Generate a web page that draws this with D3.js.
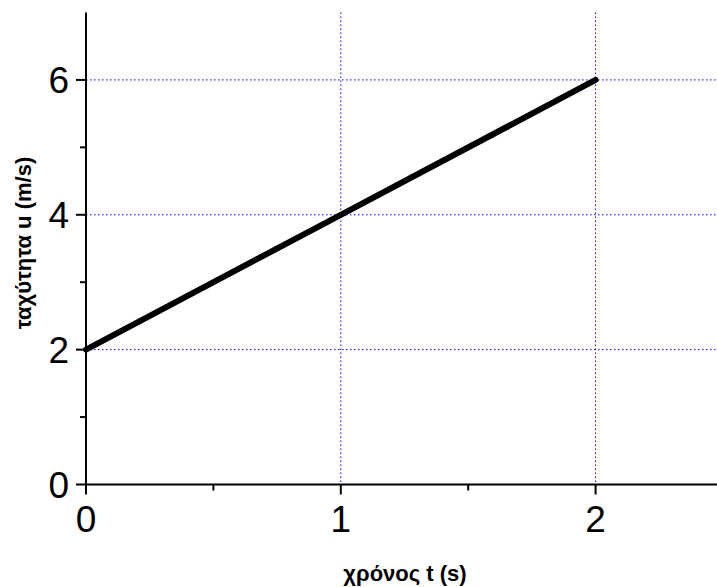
<!DOCTYPE html>
<html lang="el">
<head>
  <meta charset="UTF-8">
  <title>ταχύτητα - χρόνος</title>
  <script src="https://d3js.org/d3.v7.min.js"></script>
  <style>
    body { margin: 0; background: #fff; }
    svg { display: block; font-family: "Liberation Sans", Arial, sans-serif; }
    .grid { stroke: #0000ff; stroke-width: 1; stroke-dasharray: 1.5,2.5; }
    .tick-label { font-size: 37px; fill: #000; }
    .title { font-size: 22px; font-weight: bold; fill: #000; }
  </style>
</head>
<body>
<script>
  // Δεδομένα
  const times = [0, 1, 2];
  const speeds = [2, 4, 6];
  const xTicks = [0, 1, 2];
  const yTicks = [0, 2, 4, 6];
  const xMinor = [0.5, 1.5];
  const yMinor = [1, 3, 5];
  const xDomain = [0, 2.5];
  const yDomain = [0, 7];

  const width = 717, height = 587;
  const x = d3.scaleLinear().domain(xDomain).range([86, 723]);
  const y = d3.scaleLinear().domain(yDomain).range([484.5, 12.5]);

  const svg = d3.select("body").append("svg")
    .attr("width", width).attr("height", height);

  // πλέγμα
  svg.selectAll(".vgrid").data(xTicks.slice(1)).enter().append("line")
    .attr("class", "grid")
    .attr("x1", d => x(d)).attr("x2", d => x(d))
    .attr("y1", y(yDomain[1])).attr("y2", y(0));
  svg.selectAll(".hgrid").data(yTicks.slice(1)).enter().append("line")
    .attr("class", "grid")
    .attr("x1", x(0)).attr("x2", width)
    .attr("y1", d => y(d)).attr("y2", d => y(d));

  // άξονες
  svg.append("line").attr("stroke", "#000").attr("stroke-width", 2)
    .attr("x1", x(0)).attr("x2", x(0)).attr("y1", y(yDomain[1])).attr("y2", y(0));
  svg.append("line").attr("stroke", "#000").attr("stroke-width", 2)
    .attr("x1", x(0)).attr("x2", width).attr("y1", y(0)).attr("y2", y(0));

  // υποδιαιρέσεις
  svg.selectAll(".yt").data(yTicks).enter().append("line")
    .attr("stroke", "#000").attr("stroke-width", 2)
    .attr("x1", x(0) - 10).attr("x2", x(0)).attr("y1", d => y(d)).attr("y2", d => y(d));
  svg.selectAll(".ym").data(yMinor).enter().append("line")
    .attr("stroke", "#000").attr("stroke-width", 2)
    .attr("x1", x(0) - 6).attr("x2", x(0)).attr("y1", d => y(d)).attr("y2", d => y(d));
  svg.selectAll(".xt").data(xTicks).enter().append("line")
    .attr("stroke", "#000").attr("stroke-width", 2)
    .attr("x1", d => x(d)).attr("x2", d => x(d)).attr("y1", y(0)).attr("y2", y(0) + 10);
  svg.selectAll(".xm").data(xMinor).enter().append("line")
    .attr("stroke", "#000").attr("stroke-width", 2)
    .attr("x1", d => x(d)).attr("x2", d => x(d)).attr("y1", y(0)).attr("y2", y(0) + 6);

  // ετικέτες
  svg.selectAll(".ylab").data(yTicks).enter().append("text")
    .attr("class", "tick-label")
    .attr("x", x(0) - 17).attr("y", d => y(d) + 13)
    .attr("text-anchor", "end").text(d => d);
  svg.selectAll(".xlab").data(xTicks).enter().append("text")
    .attr("class", "tick-label")
    .attr("x", d => x(d)).attr("y", y(0) + 47)
    .attr("text-anchor", "middle").text(d => d);

  // γραμμή
  const line = d3.line().x(d => x(d[0])).y(d => y(d[1]));
  svg.append("path")
    .datum(times.map((t, i) => [t, speeds[i]]))
    .attr("d", line)
    .attr("fill", "none").attr("stroke", "#000").attr("stroke-width", 6)
    .attr("stroke-linecap", "round");

  // τίτλοι αξόνων
  svg.append("text").attr("class", "title")
    .attr("x", 405).attr("y", 581).attr("text-anchor", "middle")
    .text("χρόνος t (s)");
  svg.append("text").attr("class", "title")
    .attr("transform", "translate(31,243) rotate(-90)")
    .attr("text-anchor", "middle")
    .text("ταχύτητα u (m/s)");
</script>
</body>
</html>
